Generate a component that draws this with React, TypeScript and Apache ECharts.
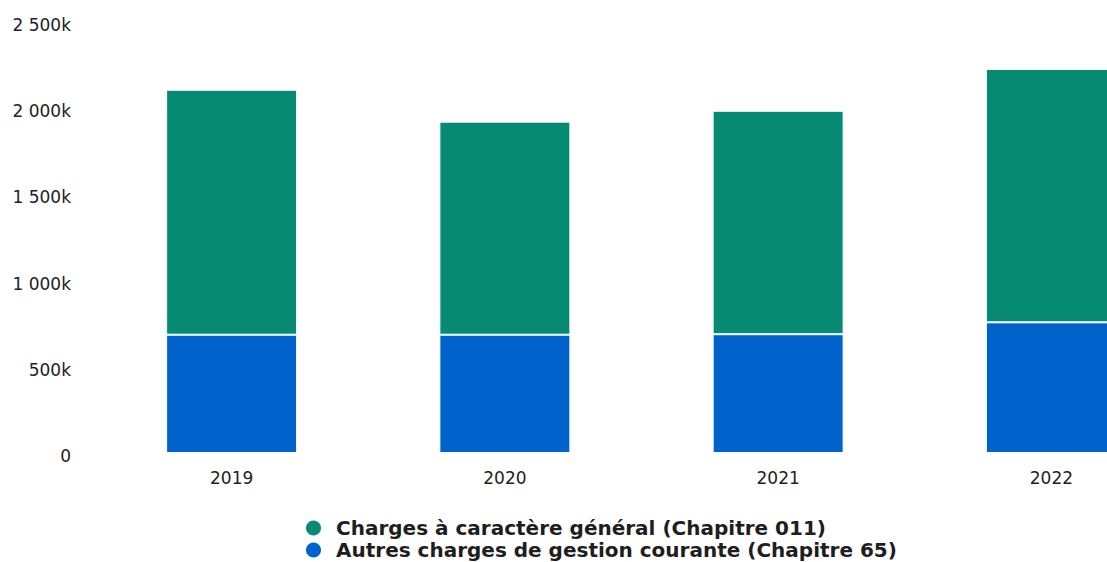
import React, { useEffect, useRef } from "react";
import * as echarts from "echarts";

const years = ["2019", "2020", "2021", "2022"];
const seriesNames = [
  "Charges à caractère général (Chapitre 011)",
  "Autres charges de gestion courante (Chapitre 65)",
];
const chapitre011 = [1421000, 1236000, 1296000, 1470000];
const chapitre65 = [686000, 686000, 689000, 758000];
const colors = ["#078a72", "#0063cb"];

function fmt(v: number): string {
  if (v === 0) return "0";
  const k = Math.round(v / 1000);
  return k.toString().replace(/\B(?=(\d{3})+(?!\d))/g, " ") + "k";
}

export default function App() {
  const ref = useRef<HTMLDivElement>(null);
  useEffect(() => {
    if (!ref.current) return;
    const chart = echarts.init(ref.current, undefined, { renderer: "svg" });
    chart.setOption({
      animation: false,
      textStyle: { fontFamily: "DejaVu Sans" },
      grid: { left: 95, top: 22, width: 1093, bottom: 147 },
      legend: {
        orient: "vertical",
        left: 299,
        top: 512,
        itemGap: 0,
        icon: "circle",
        itemWidth: 17,
        itemHeight: 17,
        textStyle: {
          fontSize: 20,
          lineHeight: 22,
          fontWeight: "bold",
          color: "#1e1e1e",
          fontFamily: "DejaVu Sans",
          padding: [0, 0, 0, 9],
        },
        data: seriesNames,
      },
      xAxis: {
        type: "category",
        data: years,
        axisLine: { show: false },
        axisTick: { show: false },
        axisLabel: { margin: 16, fontSize: 17, color: "#222", fontFamily: "DejaVu Sans" },
      },
      yAxis: {
        type: "value",
        min: 0,
        max: 2500000,
        interval: 500000,
        splitLine: { show: false },
        axisLine: { show: false },
        axisTick: { show: false },
        axisLabel: {
          margin: 24,
          fontSize: 17,
          color: "#222",
          fontFamily: "DejaVu Sans",
          verticalAlign: "top",
          lineHeight: 6,
          formatter: (v: number) => fmt(v),
        },
      },
      series: [
        {
          name: seriesNames[1],
          type: "bar",
          stack: "total",
          barWidth: 131,
          data: chapitre65,
          itemStyle: { color: colors[1], borderColor: "#ffffff", borderWidth: 1 },
        },
        {
          name: seriesNames[0],
          type: "bar",
          stack: "total",
          barWidth: 131,
          data: chapitre011,
          itemStyle: { color: colors[0], borderColor: "#ffffff", borderWidth: 1 },
        },
      ],
      color: [colors[1], colors[0]],
    });
    return () => chart.dispose();
  }, []);
  return (
    <div
      style={{
        position: "fixed",
        left: 0,
        top: 0,
        width: 1107,
        height: 562,
        overflow: "hidden",
        background: "#fff",
      }}
    >
      <div ref={ref} style={{ width: 1200, height: 600 }} />
    </div>
  );
}
